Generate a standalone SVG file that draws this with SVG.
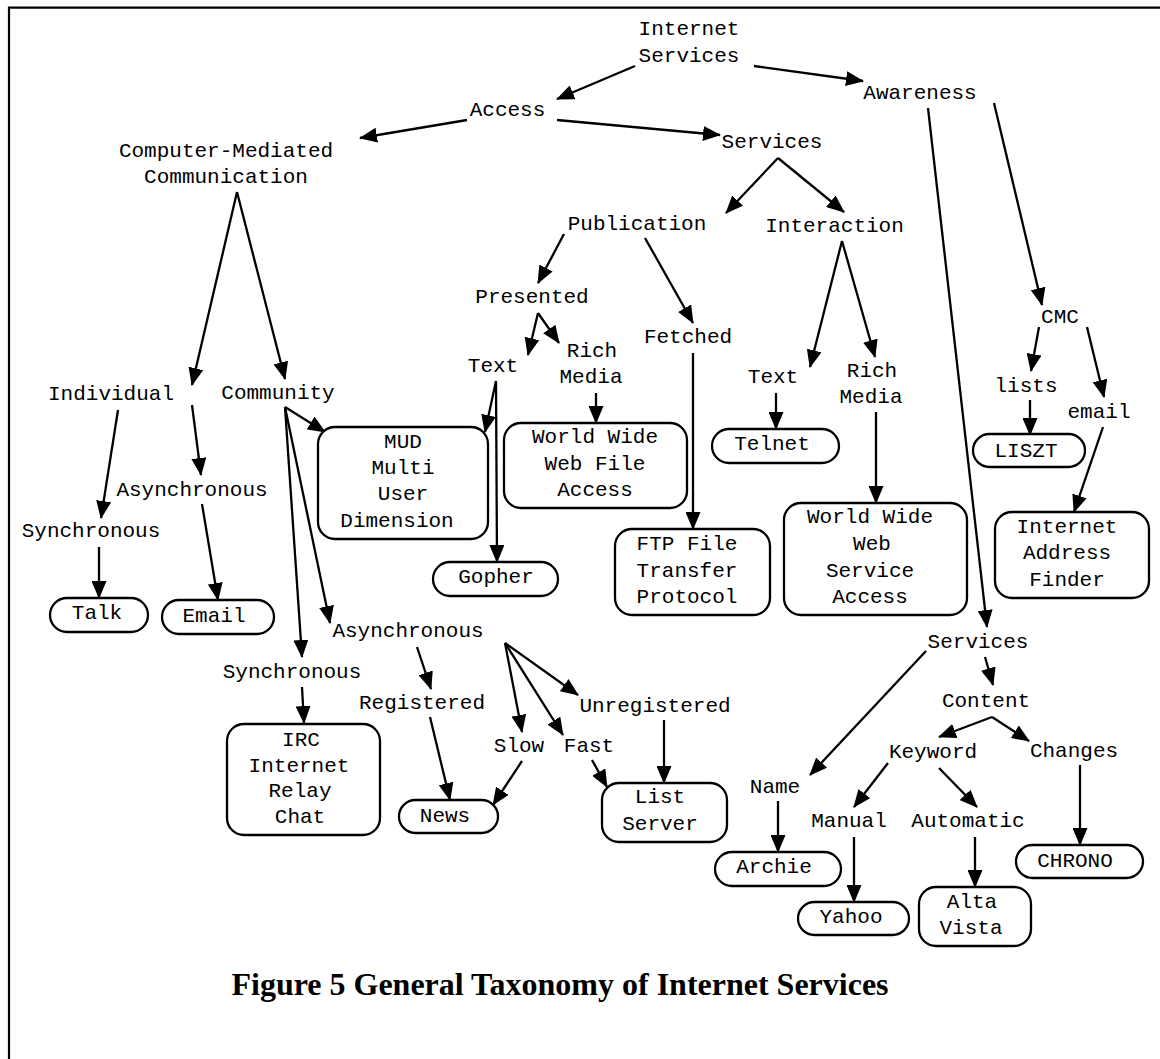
<svg xmlns="http://www.w3.org/2000/svg" width="1160" height="1059" viewBox="0 0 1160 1059">
  <style>
    .t { font-family: "Liberation Mono", "Courier New", monospace; font-size: 21px; fill: #000; text-anchor: middle; }
    .box { fill: #fff; stroke: #000; stroke-width: 2.3; }
    .edge { stroke: #000; stroke-width: 2.3; fill: none; marker-end: url(#arrow); }
    .frame { stroke: #000; stroke-width: 2.2; fill: none; }
    .caption { font-family: "Liberation Serif", "Times New Roman", serif; font-weight: bold; font-size: 32px; fill: #000; text-anchor: middle; }
  </style>
  <defs>
    <marker id="arrow" markerUnits="userSpaceOnUse" markerWidth="18" markerHeight="15" refX="17" refY="7.5" orient="auto">
      <path d="M0,0 L18,7.5 L0,15 z" fill="#000"/>
    </marker>
  </defs>
  <rect width="1160" height="1059" fill="#fff"/>
  <!-- page frame (top and left rules) -->
  <path class="frame" d="M9,1059 L9,7.7 L1160,7.7"/>

  <!-- connectors -->
  <g id="connectors">
    <line class="edge" x1="635" y1="66" x2="557" y2="99"/>
    <line class="edge" x1="754" y1="66" x2="863" y2="81"/>
    <line class="edge" x1="467" y1="120" x2="360" y2="138"/>
    <line class="edge" x1="557" y1="120" x2="720" y2="135"/>
    <line class="edge" x1="778" y1="158" x2="726" y2="213"/>
    <line class="edge" x1="778" y1="158" x2="844" y2="212"/>
    <line class="edge" x1="564" y1="234" x2="538" y2="283"/>
    <line class="edge" x1="645" y1="238" x2="693" y2="323"/>
    <line class="edge" x1="538" y1="313" x2="528" y2="355"/>
    <line class="edge" x1="538" y1="313" x2="559" y2="343"/>
    <line class="edge" x1="496" y1="381" x2="485" y2="432"/>
    <line class="edge" x1="496" y1="381" x2="497" y2="562"/>
    <line class="edge" x1="596" y1="393" x2="596" y2="423"/>
    <line class="edge" x1="693" y1="353" x2="693" y2="529"/>
    <line class="edge" x1="842" y1="241" x2="810" y2="367"/>
    <line class="edge" x1="842" y1="241" x2="875" y2="357"/>
    <line class="edge" x1="776" y1="393" x2="776" y2="429"/>
    <line class="edge" x1="876" y1="412" x2="876" y2="503"/>
    <line class="edge" x1="928" y1="108" x2="987" y2="627"/>
    <line class="edge" x1="994" y1="103" x2="1042" y2="305"/>
    <line class="edge" x1="1039" y1="327" x2="1031" y2="371"/>
    <line class="edge" x1="1087" y1="327" x2="1104" y2="397"/>
    <line class="edge" x1="1030" y1="400" x2="1030" y2="435"/>
    <line class="edge" x1="1103" y1="427" x2="1074" y2="512"/>
    <line class="edge" x1="237" y1="192" x2="192" y2="385"/>
    <line class="edge" x1="237" y1="192" x2="285" y2="379"/>
    <line class="edge" x1="118" y1="410" x2="101" y2="518"/>
    <line class="edge" x1="192" y1="405" x2="201" y2="475"/>
    <line class="edge" x1="99" y1="547" x2="99" y2="598"/>
    <line class="edge" x1="202" y1="504" x2="218" y2="600"/>
    <line class="edge" x1="285" y1="407" x2="325" y2="432"/>
    <line class="edge" x1="285" y1="407" x2="302" y2="657"/>
    <line class="edge" x1="285" y1="407" x2="330" y2="623"/>
    <line class="edge" x1="302" y1="687" x2="304" y2="723"/>
    <line class="edge" x1="417" y1="647" x2="431" y2="689"/>
    <line class="edge" x1="430" y1="717" x2="450" y2="800"/>
    <line class="edge" x1="505" y1="643" x2="522" y2="732"/>
    <line class="edge" x1="505" y1="643" x2="563" y2="735"/>
    <line class="edge" x1="505" y1="643" x2="578" y2="695"/>
    <line class="edge" x1="522" y1="761" x2="493" y2="805"/>
    <line class="edge" x1="592" y1="760" x2="607" y2="787"/>
    <line class="edge" x1="664" y1="720" x2="664" y2="783"/>
    <line class="edge" x1="926" y1="651" x2="810" y2="775"/>
    <line class="edge" x1="985" y1="657" x2="993" y2="685"/>
    <line class="edge" x1="992" y1="717" x2="939" y2="737"/>
    <line class="edge" x1="992" y1="717" x2="1029" y2="741"/>
    <line class="edge" x1="888" y1="763" x2="854" y2="807"/>
    <line class="edge" x1="939" y1="768" x2="977" y2="807"/>
    <line class="edge" x1="778" y1="801" x2="778" y2="852"/>
    <line class="edge" x1="854" y1="837" x2="854" y2="902"/>
    <line class="edge" x1="975" y1="837" x2="975" y2="887"/>
    <line class="edge" x1="1080" y1="765" x2="1080" y2="845"/>
  </g>

  <!-- category labels -->
  <g id="internet-services"><text class="t" x="689" y="35">Internet</text><text class="t" x="689" y="61.5">Services</text></g>
  <g id="access"><text class="t" x="507.5" y="115.5">Access</text></g>
  <g id="cmc-root"><text class="t" x="226" y="157">Computer-Mediated</text><text class="t" x="226" y="183">Communication</text></g>
  <g id="services-access"><text class="t" x="772" y="148">Services</text></g>
  <g id="awareness"><text class="t" x="920" y="99">Awareness</text></g>
  <g id="publication"><text class="t" x="637" y="230">Publication</text></g>
  <g id="interaction"><text class="t" x="834.5" y="232">Interaction</text></g>
  <g id="presented"><text class="t" x="532" y="303">Presented</text></g>
  <g id="pub-text"><text class="t" x="493" y="372">Text</text></g>
  <g id="pub-rich"><text class="t" x="592" y="357">Rich</text><text class="t" x="591" y="383">Media</text></g>
  <g id="fetched"><text class="t" x="688" y="343">Fetched</text></g>
  <g id="int-text"><text class="t" x="773" y="383">Text</text></g>
  <g id="int-rich"><text class="t" x="872" y="377">Rich</text><text class="t" x="871" y="403">Media</text></g>
  <g id="cmc"><text class="t" x="1060" y="323">CMC</text></g>
  <g id="lists"><text class="t" x="1026" y="392">lists</text></g>
  <g id="email-label"><text class="t" x="1099" y="418">email</text></g>
  <g id="individual"><text class="t" x="111" y="400">Individual</text></g>
  <g id="community"><text class="t" x="278" y="399">Community</text></g>
  <g id="ind-async"><text class="t" x="192" y="496">Asynchronous</text></g>
  <g id="ind-sync"><text class="t" x="91" y="537">Synchronous</text></g>
  <g id="com-sync"><text class="t" x="292" y="678">Synchronous</text></g>
  <g id="com-async"><text class="t" x="408" y="637">Asynchronous</text></g>
  <g id="registered"><text class="t" x="422" y="709">Registered</text></g>
  <g id="slow"><text class="t" x="519" y="752">Slow</text></g>
  <g id="fast"><text class="t" x="589" y="752">Fast</text></g>
  <g id="unregistered"><text class="t" x="655" y="712">Unregistered</text></g>
  <g id="services-aw"><text class="t" x="978" y="648">Services</text></g>
  <g id="content"><text class="t" x="986" y="707">Content</text></g>
  <g id="keyword"><text class="t" x="933" y="758">Keyword</text></g>
  <g id="changes"><text class="t" x="1074" y="757">Changes</text></g>
  <g id="name"><text class="t" x="775" y="793">Name</text></g>
  <g id="manual"><text class="t" x="849" y="827">Manual</text></g>
  <g id="automatic"><text class="t" x="968" y="827">Automatic</text></g>

  <!-- service boxes -->
  <g id="mud"><rect class="box" x="318" y="427" width="170" height="112" rx="17"/>
    <text class="t" x="403" y="448">MUD</text><text class="t" x="403" y="474">Multi</text><text class="t" x="403" y="500">User</text><text class="t" x="397" y="527">Dimension</text></g>
  <g id="www-file"><rect class="box" x="504" y="423" width="183" height="85" rx="17"/>
    <text class="t" x="595" y="443">World Wide</text><text class="t" x="595" y="470">Web File</text><text class="t" x="595" y="496">Access</text></g>
  <g id="gopher"><rect class="box" x="433" y="562" width="125" height="34" rx="17"/>
    <text class="t" x="496" y="583">Gopher</text></g>
  <g id="ftp"><rect class="box" x="615" y="529" width="155" height="86" rx="17"/>
    <text class="t" x="687" y="550">FTP File</text><text class="t" x="687" y="577">Transfer</text><text class="t" x="687" y="603">Protocol</text></g>
  <g id="telnet"><rect class="box" x="712" y="429" width="127" height="34" rx="17"/>
    <text class="t" x="772" y="450">Telnet</text></g>
  <g id="www-service"><rect class="box" x="784" y="503" width="183" height="112" rx="17"/>
    <text class="t" x="870" y="523">World Wide</text><text class="t" x="872" y="550">Web</text><text class="t" x="870" y="577">Service</text><text class="t" x="870" y="603">Access</text></g>
  <g id="liszt"><rect class="box" x="973" y="434" width="112" height="33" rx="16.5"/>
    <text class="t" x="1026" y="457">LISZT</text></g>
  <g id="iaf"><rect class="box" x="995" y="512" width="154" height="86" rx="17"/>
    <text class="t" x="1067" y="533">Internet</text><text class="t" x="1067" y="559">Address</text><text class="t" x="1067" y="586">Finder</text></g>
  <g id="talk"><rect class="box" x="50" y="598" width="98" height="34" rx="17"/>
    <text class="t" x="97" y="619">Talk</text></g>
  <g id="email"><rect class="box" x="162" y="600" width="112" height="34" rx="17"/>
    <text class="t" x="214" y="622">Email</text></g>
  <g id="irc"><rect class="box" x="227" y="724" width="153" height="111" rx="17"/>
    <text class="t" x="301" y="746">IRC</text><text class="t" x="299" y="772">Internet</text><text class="t" x="300" y="797">Relay</text><text class="t" x="300" y="823">Chat</text></g>
  <g id="news"><rect class="box" x="399" y="800" width="99" height="33" rx="16.5"/>
    <text class="t" x="445" y="822">News</text></g>
  <g id="list-server"><rect class="box" x="602" y="783" width="125" height="59" rx="17"/>
    <text class="t" x="660" y="803">List</text><text class="t" x="660" y="830">Server</text></g>
  <g id="archie"><rect class="box" x="715" y="852" width="126" height="34" rx="17"/>
    <text class="t" x="774" y="873">Archie</text></g>
  <g id="yahoo"><rect class="box" x="798" y="902" width="111" height="33" rx="16.5"/>
    <text class="t" x="851" y="923">Yahoo</text></g>
  <g id="altavista"><rect class="box" x="919" y="887" width="112" height="59" rx="17"/>
    <text class="t" x="972" y="908">Alta</text><text class="t" x="971" y="934">Vista</text></g>
  <g id="chrono"><rect class="box" x="1016" y="845" width="127" height="33" rx="16.5"/>
    <text class="t" x="1075" y="867">CHRONO</text></g>

  <text class="caption" x="560" y="995">Figure 5 General Taxonomy of Internet Services</text>
</svg>
